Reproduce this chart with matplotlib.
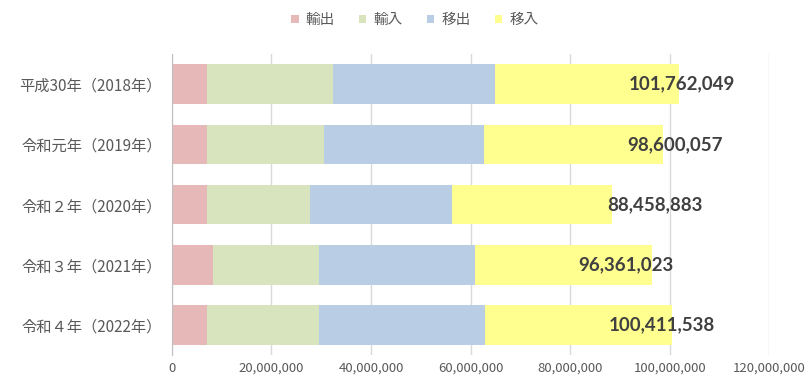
import matplotlib.pyplot as plt
from matplotlib.ticker import FuncFormatter

plt.rcParams['font.family'] = ['Noto Sans CJK JP', 'DejaVu Sans']

years = ["平成30年（2018年）", "令和元年（2019年）", "令和２年（2020年）",
         "令和３年（2021年）", "令和４年（2022年）"]
series = ["輸出", "輸入", "移出", "移入"]

# values (tonnes)
export_ = [7080000, 7100000, 7100000, 8270000, 7050000]
import_ = [25200000, 23400000, 20700000, 21200000, 22450000]
ship_out = [32700000, 32200000, 28400000, 31400000, 33300000]
ship_in = [36782049, 35900057, 32258883, 35491023, 37611538]
totals = [101762049, 98600057, 88458883, 96361023, 100411538]

colors = ["#E6B9B8", "#D7E4BD", "#B9CDE5", "#FFFF8F"]
label_dx = [3, 12, 43, -26, -10]  # nudges of the total labels, px

fig = plt.figure(figsize=(8.09, 3.76), dpi=100)
ax = fig.add_axes([0.2124, 0.056, 0.7386, 0.80])

ypos = range(len(years))
left = [0] * len(years)
for name, vals, c in zip(series, [export_, import_, ship_out, ship_in], colors):
    ax.barh(ypos, vals, left=left, height=0.66, color=c, label=name, zorder=2)
    left = [l + v for l, v in zip(left, vals)]

for i, t in enumerate(totals):
    ax.annotate(f"{t:,}", (t, i), xytext=(label_dx[i], 0), textcoords="offset pixels",
                ha="center", va="center", fontsize=13.5, fontweight="bold",
                color="#404040", family="Lato", zorder=3)

ax.set_xlim(0, 120000000)
ax.set_xticks(range(0, 120000001, 20000000))
ax.xaxis.set_major_formatter(FuncFormatter(lambda v, p: f"{int(v):,}"))
ax.set_ylim(len(years) - 0.5, -0.5)
ax.set_yticks(list(ypos))
ax.set_yticklabels(years)
ax.grid(axis="x", color="#D9D9D9", linewidth=1, zorder=0)
for s in ["top", "right", "bottom"]:
    ax.spines[s].set_visible(False)
ax.spines["left"].set_color("#BFBFBF")
ax.tick_params(length=0, colors="#595959")
ax.tick_params(axis="y", pad=7, labelsize=11)
ax.tick_params(axis="x", pad=5, labelsize=9.5)

fig.legend(loc="upper center", bbox_to_anchor=(0.513, 1.0), ncol=4, frameon=False,
           handlelength=0.5, handleheight=0.5, handletextpad=0.5, columnspacing=1.65,
           fontsize=10.5, labelcolor="#595959")

fig.savefig("out.png", dpi=100)
